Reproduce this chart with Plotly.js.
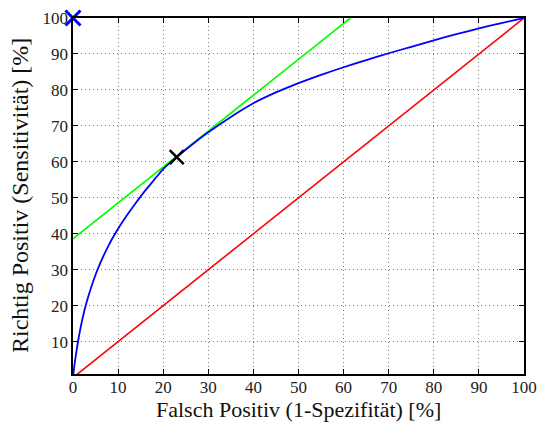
<!DOCTYPE html>
<html>
<head>
<meta charset="utf-8">
<script src="https://cdn.plot.ly/plotly-3.0.1.min.js"></script>
<style>html,body{margin:0;padding:0;background:#fff;}#chart{width:537px;height:423px;}</style>
</head>
<body>
<div id="chart"></div>
<script>
// ROC curve (blue)
const rocFP = [0, 0.25, 0.6, 1, 1.5, 2, 2.5, 3, 4, 5, 6, 7, 8, 9, 10, 12, 14, 16, 18, 20, 23, 26, 30, 35, 40, 45, 50, 55, 60, 65, 70, 75, 80, 85, 90, 95, 100];
const rocTP = [0, 2.8, 6.0, 9.2, 12.7, 15.8, 18.5, 20.9, 25.0, 28.6, 31.7, 34.5, 37.0, 39.3, 41.4, 45.2, 48.7, 52.0, 55.0, 58.0, 61.3, 64.4, 68.2, 72.5, 76.3, 79.3, 81.9, 84.2, 86.3, 88.3, 90.2, 92.0, 93.8, 95.5, 97.1, 98.6, 100];
// chance diagonal (red)
const diagFP = [0, 100];
const diagTP = [0, 100];
// tangent line (green)
const tanFP = [0, 61.5];
const tanTP = [38.6, 100];
// operating point (black x) and ideal point (blue x)
const opFP = [23];
const opTP = [61.3];
const idealFP = [0];
const idealTP = [100];
// ticks and titles
const xTicks = [0, 10, 20, 30, 40, 50, 60, 70, 80, 90, 100];
const yTicks = [10, 20, 30, 40, 50, 60, 70, 80, 90, 100];
const xTitle = 'Falsch Positiv (1-Spezifität) [%]';
const yTitle = 'Richtig Positiv (Sensitivität) [%]';

const font = "'Liberation Serif', 'DejaVu Serif', serif";

const traces = [
  {x: diagFP, y: diagTP, mode: 'lines', line: {color: '#ff0000', width: 1.6}, hoverinfo: 'skip'},
  {x: tanFP, y: tanTP, mode: 'lines', line: {color: '#00ff00', width: 1.6}, hoverinfo: 'skip'},
  {x: rocFP, y: rocTP, mode: 'lines', line: {color: '#0000ff', width: 1.8, shape: 'spline', smoothing: 0.6}, hoverinfo: 'skip'},
  {x: opFP, y: opTP, mode: 'markers', cliponaxis: false,
   marker: {symbol: 'x-thin', size: 14, color: '#000', line: {color: '#000', width: 2.5}}},
  {x: idealFP, y: idealTP, mode: 'markers', cliponaxis: false,
   marker: {symbol: 'x-thin', size: 15, color: '#0000ff', line: {color: '#0000ff', width: 3}}}
];

const axisCommon = {
  showline: true, linecolor: '#000', linewidth: 1.6, mirror: 'allticks',
  ticks: 'inside', ticklen: 5, tickcolor: '#000', tickwidth: 1,
  showgrid: true, gridcolor: '#777', griddash: '1px,3px', gridwidth: 1,
  zeroline: false, tickmode: 'array', ticklabeloverflow: 'allow',
  tickfont: {family: font, size: 17, color: '#222'}
};

const layout = {
  width: 537, height: 423,
  margin: {l: 73, r: 13, t: 18, b: 49, pad: 0},
  paper_bgcolor: '#fff', plot_bgcolor: '#fff',
  showlegend: false,
  xaxis: Object.assign({}, axisCommon, {
    range: [0, 100], tickvals: xTicks, ticktext: xTicks.map(String), ticklabelstandoff: -3
  }),
  yaxis: Object.assign({}, axisCommon, {
    range: [1, 100], tickvals: yTicks, ticktext: yTicks.map(String)
  }),
  annotations: [
    {text: xTitle, xref: 'paper', yref: 'paper', x: 0.5, y: 0,
     xanchor: 'center', yanchor: 'top', yshift: -21, showarrow: false,
     font: {family: font, size: 22, color: '#111'}},
    {text: yTitle, xref: 'paper', yref: 'paper', x: 0, y: 0.5, textangle: -90,
     xanchor: 'center', yanchor: 'middle', xshift: -53, showarrow: false,
     font: {family: font, size: 24, color: '#111'}}
  ]
};

Plotly.newPlot('chart', traces, layout, {displayModeBar: false, staticPlot: true});
</script>
</body>
</html>
